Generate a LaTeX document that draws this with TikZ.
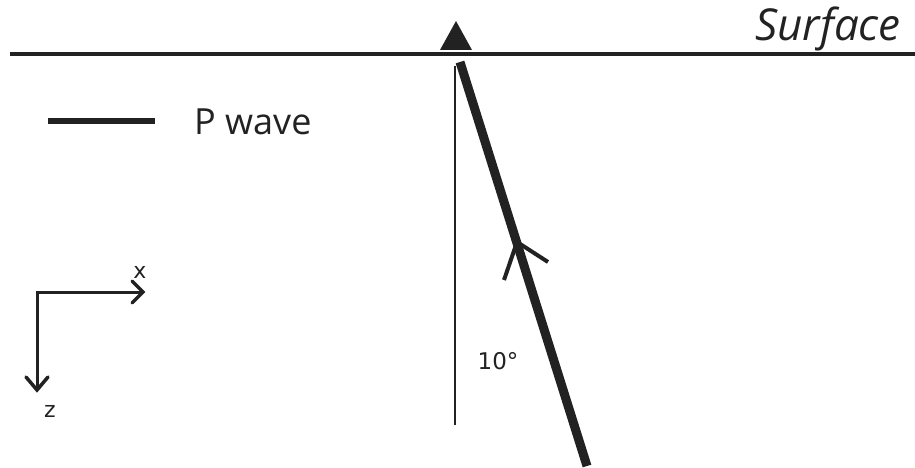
\documentclass[tikz,border=0pt]{standalone}
\usepackage{fontspec}
\setmainfont{Open Sans}
\newfontfamily\dejavu{DejaVu Sans}
\definecolor{ink}{HTML}{222222}
\begin{document}
\begin{tikzpicture}[x=1pt,y=-1pt,
  every node/.style={inner sep=0pt,text=ink},
  ray/.style={draw=ink,line width=9pt},
  thin/.style={draw=ink,line width=2pt},
  axis/.style={draw=ink,line width=3pt},
  chev/.style={draw=ink,line width=3.5pt,line cap=round}]
\useasboundingbox (0,0) rectangle (915,468);
% surface
\coordinate (sl) at (10,54);
\coordinate (sr) at (915,54);
\draw[draw=ink,line width=4.5pt] (sl) -- (sr);
\node[anchor=east,font=\itshape\fontsize{44}{44}\selectfont] (surf) at (901,29) {Surface};
% station
\coordinate (t1) at (456,21);
\coordinate (t2) at (440,50);
\coordinate (t3) at (472,50);
\fill[ink] (t1) -- (t2) -- (t3) -- cycle;
% vertical
\coordinate (vt) at (455,66);
\coordinate (vb) at (455,425);
\draw[thin] (vt) -- (vb);
% ray
\coordinate (rt) at (460,62);
\coordinate (rb) at (587,466);
\draw[ray] (rb) -- (rt);
\coordinate (ah) at (517,242);
\coordinate (al) at (504,280);
\coordinate (ar) at (548,262);
\draw[draw=ink,line width=4pt] (al) -- (ah) -- (ar);
\node[font=\dejavu\fontsize{23}{23}\selectfont] (ang) at (498,361) {10°};
% legend
\coordinate (l1) at (48,121);
\coordinate (l2) at (155,121);
\draw[draw=ink,line width=5.5pt] (l1) -- (l2);
\node[anchor=west,font=\fontsize{36}{36}\selectfont] (pw) at (194,122) {P wave};
% axes
\coordinate (o) at (37,292);
\coordinate (xe) at (143,292);
\coordinate (ze) at (37,390);
\draw[axis] (xe) -- (o) -- (ze);
\draw[chev] (132,281) -- (143,292) -- (132,303);
\draw[chev] (26,377) -- (37,390) -- (48,377);
\node[font=\dejavu\fontsize{22}{22}\selectfont] (xl) at (140,272) {x};
\node[font=\dejavu\fontsize{22}{22}\selectfont] (zl) at (50,411) {z};
\end{tikzpicture}
\end{document}
